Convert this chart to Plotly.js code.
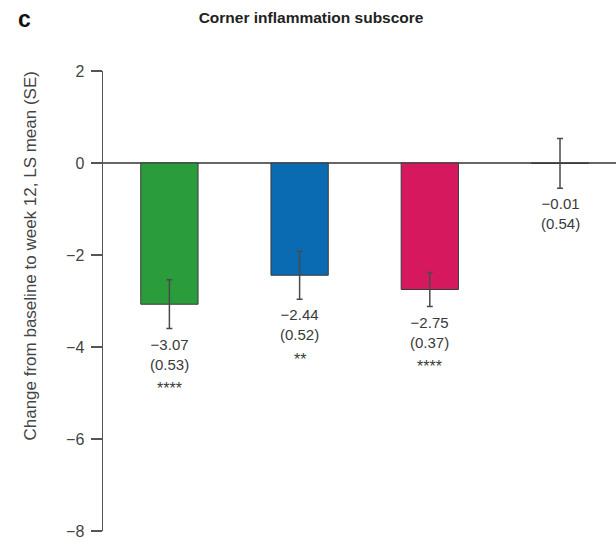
<!DOCTYPE html>
<html>
<head>
<meta charset="utf-8">
<script src="https://cdn.plot.ly/plotly-3.0.1.min.js"></script>
<style>html,body{margin:0;padding:0;background:#fff;}#chart{width:616px;height:545px;}</style>
</head>
<body>
<div id="chart"></div>
<script>
const categories = ['Group 1', 'Group 2', 'Group 3', 'Group 4'];
const lsMeans = [-3.07, -2.44, -2.75, -0.01];
const standardErrors = [0.53, 0.52, 0.37, 0.54];
const significance = ['****', '**', '****', ''];
const barColors = ['#2a9c3c', '#0b6bb2', '#d6185f', '#9a9a9a'];

function fmt(v) {
  return (v < 0 ? '\u2212' : '') + Math.abs(v).toFixed(2);
}

const FONT = 'Liberation Sans, Arial, sans-serif';

const trace = {
  type: 'bar',
  x: categories,
  y: lsMeans,
  marker: { color: barColors, line: { color: '#3a3a3a', width: 1 } },
  error_y: { type: 'data', array: standardErrors, visible: true, color: '#4a4a4a', thickness: 1.5, width: 3 },
  hoverinfo: 'none'
};

const annotations = [];
categories.forEach((c, i) => {
  annotations.push({
    x: c, y: lsMeans[i] - standardErrors[i], xref: 'x', yref: 'y',
    yanchor: 'top', yshift: -5, showarrow: false,
    text: fmt(lsMeans[i]) + '<br>(' + standardErrors[i].toFixed(2) + ')',
    font: { family: FONT, size: 15, color: '#3a3a3a' },
    align: 'center'
  });
  if (significance[i]) {
    annotations.push({
      x: c, y: lsMeans[i] - standardErrors[i], xref: 'x', yref: 'y',
      yanchor: 'middle', yshift: -60, showarrow: false,
      text: significance[i],
      font: { family: FONT, size: 16, color: '#3a3a3a' }
    });
  }
});

annotations.push({
  xref: 'paper', yref: 'paper', x: -0.17, y: 1.113, xanchor: 'left', yanchor: 'middle',
  showarrow: false, text: '<b>c</b>',
  font: { family: FONT, size: 23, color: '#111' }
});

annotations.push({
  xref: 'paper', yref: 'paper', x: -0.142, y: 0.597, xanchor: 'center', yanchor: 'middle',
  showarrow: false, textangle: -90,
  text: 'Change from baseline to week 12, LS mean (SE)',
  font: { family: FONT, size: 17, color: '#444' }
});

const layout = {
  width: 616, height: 545,
  margin: { l: 103, r: 0, t: 71, b: 14 },
  paper_bgcolor: '#fff', plot_bgcolor: '#fff',
  showlegend: false,
  bargap: 0.56,
  title: {
    text: '<b>Corner inflammation subscore</b>',
    x: 0.505, xanchor: 'center', y: 0.968, yanchor: 'middle',
    font: { family: FONT, size: 15.5, color: '#222' }
  },
  xaxis: {
    range: [-0.51, 3.43], showticklabels: false, ticks: '', showline: false,
    showgrid: false, zeroline: false, fixedrange: true
  },
  yaxis: {
    range: [-8, 2], tickvals: [2, 0, -2, -4, -6, -8],
    showgrid: false, showline: true, linecolor: '#555', linewidth: 1.5,
    ticks: 'outside', ticklen: 11, tickwidth: 1.5, tickcolor: '#555',
    ticklabelstandoff: 3,
    zeroline: true, zerolinecolor: '#666', zerolinewidth: 1.5,
    tickfont: { family: FONT, size: 16, color: '#444' }
  },
  annotations: annotations
};

Plotly.newPlot('chart', [trace], layout, { displayModeBar: false, staticPlot: true });
</script>
</body>
</html>
